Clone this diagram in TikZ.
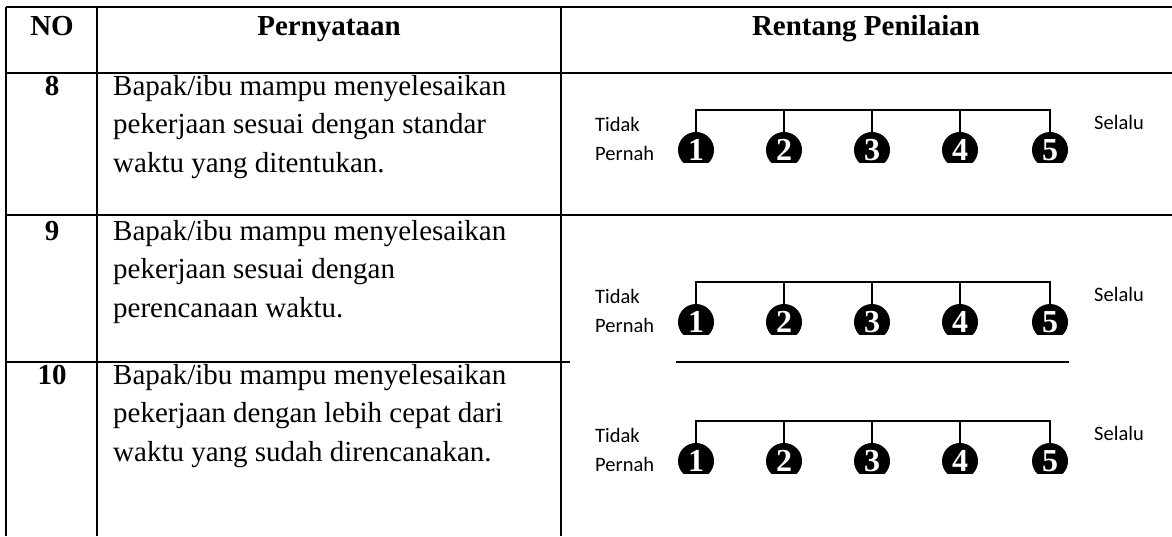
\documentclass[tikz,border=0pt]{standalone}
\usepackage{fontspec}
\setmainfont{Liberation Serif}
\newfontfamily\labelfont{Carlito}
\tikzset{>=stealth}

\begin{document}
\begin{tikzpicture}[x=1pt, y=-1pt,
	grid/.style={line width=2.4pt},
	scaleline/.style={line width=1.4pt},
	head/.style={font=\fontsize{29}{38.5}\selectfont\bfseries, inner sep=0pt, anchor=base},
	stmt/.style={font=\fontsize{29}{38.5}\selectfont, align=left, inner sep=0pt, anchor=base west},
	lbl/.style={font=\labelfont\fontsize{20.5}{24}\selectfont, inner sep=0pt, anchor=base west},
	num/.style={circle, fill=black, text=white, minimum size=36pt, inner sep=0pt, font=\fontsize{32}{32}\selectfont\bfseries}]

	\useasboundingbox (0,0) rectangle (1172,536);

	% table lines
	\draw[grid] (6,7) -- (1172,7);
	\draw[grid] (6,73) -- (1172,73);
	\draw[grid] (6,215) -- (1172,215);
	\draw[grid] (6,362) -- (570,362);
	\draw[grid] (676,362) -- (1069,362);
	\draw[grid] (6,7) -- (6,536);
	\draw[grid] (97,7) -- (97,536);
	\draw[grid] (561,7) -- (561,536);

	% header
	\node[head]	(hno)	at	(52,35)	{NO};
	\node[head]	(hstmt)	at	(329,35)	{Pernyataan};
	\node[head]	(hscale)	at	(866,35)	{Rentang Penilaian};

	% row numbers and statements (base = last line)
	\node[head]	(no8)	at	(52,95)	{8};
	\node[head]	(no9)	at	(52,240)	{9};
	\node[head]	(no10)	at	(52,384)	{10};
	\node[stmt]	(stmt8)	at	(113,172)	{Bapak/ibu mampu menyelesaikan\\pekerjaan sesuai dengan standar\\waktu yang ditentukan.};
	\node[stmt]	(stmt9)	at	(113,317)	{Bapak/ibu mampu menyelesaikan\\pekerjaan sesuai dengan\\perencanaan waktu.};
	\node[stmt]	(stmt10)	at	(113,461)	{Bapak/ibu mampu menyelesaikan\\pekerjaan dengan lebih cepat dari\\waktu yang sudah direncanakan.};

	% scale row 8
	\node[lbl]	(tidak8)	at	(595,131)	{Tidak};
	\node[lbl]	(pernah8)	at	(595,160)	{Pernah};
	\node[lbl]	(selalu8)	at	(1094,129)	{Selalu};
	\coordinate	(top8)	at	(696,110);
	\begin{scope}
	\clip (660,100) rectangle (1080,162);
	\node[num]	(s81)	at	(696,150)	{1};
	\node[num]	(s82)	at	(784,150)	{2};
	\node[num]	(s83)	at	(872,150)	{3};
	\node[num]	(s84)	at	(960,150)	{4};
	\node[num]	(s85)	at	(1050,150)	{5};
	\end{scope}
	\draw[scaleline] (s81.north) |- (top8) -| (s85.north);
	\draw[scaleline] (s82.north) -- (s82.north |- top8);
	\draw[scaleline] (s83.north) -- (s83.north |- top8);
	\draw[scaleline] (s84.north) -- (s84.north |- top8);

	% scale row 9
	\node[lbl]	(tidak9)	at	(595,303)	{Tidak};
	\node[lbl]	(pernah9)	at	(595,332)	{Pernah};
	\node[lbl]	(selalu9)	at	(1094,301)	{Selalu};
	\coordinate	(top9)	at	(696,282);
	\begin{scope}
	\clip (660,272) rectangle (1080,334);
	\node[num]	(s91)	at	(696,322)	{1};
	\node[num]	(s92)	at	(784,322)	{2};
	\node[num]	(s93)	at	(872,322)	{3};
	\node[num]	(s94)	at	(960,322)	{4};
	\node[num]	(s95)	at	(1050,322)	{5};
	\end{scope}
	\draw[scaleline] (s91.north) |- (top9) -| (s95.north);
	\draw[scaleline] (s92.north) -- (s92.north |- top9);
	\draw[scaleline] (s93.north) -- (s93.north |- top9);
	\draw[scaleline] (s94.north) -- (s94.north |- top9);

	% scale row 10
	\node[lbl]	(tidak10)	at	(595,442)	{Tidak};
	\node[lbl]	(pernah10)	at	(595,471)	{Pernah};
	\node[lbl]	(selalu10)	at	(1094,440)	{Selalu};
	\coordinate	(top10)	at	(696,421);
	\begin{scope}
	\clip (660,411) rectangle (1080,473);
	\node[num]	(s101)	at	(696,461)	{1};
	\node[num]	(s102)	at	(784,461)	{2};
	\node[num]	(s103)	at	(872,461)	{3};
	\node[num]	(s104)	at	(960,461)	{4};
	\node[num]	(s105)	at	(1050,461)	{5};
	\end{scope}
	\draw[scaleline] (s101.north) |- (top10) -| (s105.north);
	\draw[scaleline] (s102.north) -- (s102.north |- top10);
	\draw[scaleline] (s103.north) -- (s103.north |- top10);
	\draw[scaleline] (s104.north) -- (s104.north |- top10);
\end{tikzpicture}
\end{document}
